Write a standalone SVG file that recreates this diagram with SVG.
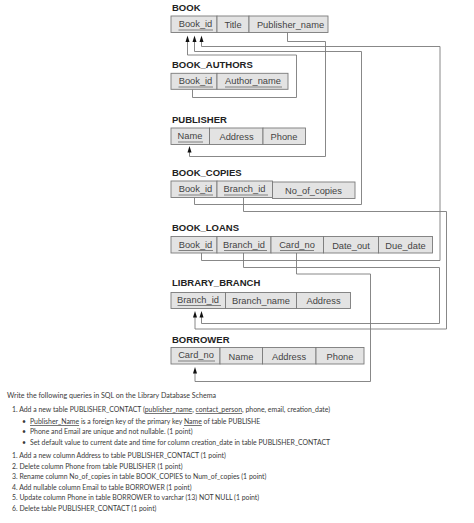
<svg xmlns="http://www.w3.org/2000/svg" width="474" height="523" viewBox="0 0 474 523">
<style>
.title{font-family:"Liberation Sans",Arial,sans-serif;font-weight:bold;font-size:9.5px;fill:#222}
.cell{fill:#e3e3e3;stroke:#7a7a7a;stroke-width:0.9}
.ct{font-family:"Liberation Sans",Arial,sans-serif;font-size:9.3px;fill:#444;text-anchor:middle}
.ul{stroke:#555;stroke-width:0.7}
.conn{fill:none;stroke:#7a7a7a;stroke-width:0.9}
.arr{fill:#111}
.q{font-family:Lato,"Open Sans",sans-serif;font-size:6.9px;fill:#3a3a3a}
.qh{font-family:Lato,"Open Sans",sans-serif;font-size:7.1px;fill:#3a3a3a}
</style>
<rect width="474" height="523" fill="#fff"/>
<defs>
<path id="ah" d="M-2,6 L0,-0.5 L2,6 Z"/>
</defs>

<g id="connectors">
<path class="conn" d="M192.5,89.5 V97.5 H296.5 V55 H187.5 V41"/>
<path class="conn" d="M194.5,198 V204.5 H361.5 V51.5 H194.5 V41"/>
<path class="conn" d="M201.5,253 V260.5 H440 V46.5 H201.5 V41"/>
<path class="conn" d="M287.5,32.5 V41.5 H325.5 V156.5 H189.5 V152"/>
<path class="conn" d="M243.5,198 V211.5 H446.5 V329 H195 V317"/>
<path class="conn" d="M243.5,253 V267.5 H439.5 V323.5 H201.5 V317"/>
<path class="conn" d="M296.5,253 V274 H370.5 V381.5 H195 V373"/>
<use href="#ah" class="arr" x="187.5" y="36"/>
<use href="#ah" class="arr" x="194.5" y="36"/>
<use href="#ah" class="arr" x="201.5" y="36"/>
<use href="#ah" class="arr" x="189.5" y="146.5"/>
<use href="#ah" class="arr" x="195" y="311.5"/>
<use href="#ah" class="arr" x="201.5" y="311.5"/>
<use href="#ah" class="arr" x="195" y="367.5"/>
</g>

<g id="BOOK">
<text class="title" x="172" y="11">BOOK</text>
<rect class="cell" x="171" y="16" width="46" height="16.5"/>
<rect class="cell" x="217" y="16" width="32" height="16.5"/>
<rect class="cell" x="249" y="16" width="79" height="16.5"/>
<text class="ct" x="195.5" y="27">Book_id</text>
<line class="ul" x1="178.5" y1="30" x2="213" y2="30"/>
<text class="ct" x="233" y="28">Title</text>
<text class="ct" x="290.5" y="28">Publisher_name</text>
</g>

<g id="BOOK_AUTHORS">
<text class="title" x="172" y="67.5">BOOK_AUTHORS</text>
<rect class="cell" x="171" y="73.3" width="46" height="16"/>
<rect class="cell" x="217" y="73.3" width="71" height="16"/>
<text class="ct" x="195.5" y="84">Book_id</text>
<line class="ul" x1="178.5" y1="87" x2="213" y2="87"/>
<text class="ct" x="253" y="84">Author_name</text>
<line class="ul" x1="225" y1="87" x2="282" y2="87"/>
</g>

<g id="PUBLISHER">
<text class="title" x="172" y="122.5">PUBLISHER</text>
<rect class="cell" x="171" y="128" width="38.5" height="16.5"/>
<rect class="cell" x="209.5" y="128" width="53.5" height="16.5"/>
<rect class="cell" x="263" y="128" width="42.5" height="16.5"/>
<text class="ct" x="190" y="139">Name</text>
<line class="ul" x1="178" y1="142" x2="203" y2="142"/>
<text class="ct" x="236.5" y="140">Address</text>
<text class="ct" x="284" y="140">Phone</text>
</g>

<g id="BOOK_COPIES">
<text class="title" x="172" y="175.5">BOOK_COPIES</text>
<rect class="cell" x="171" y="181" width="46" height="16.5"/>
<rect class="cell" x="217" y="181" width="55.5" height="16.5"/>
<rect class="cell" x="272.5" y="182" width="82.5" height="16.5"/>
<text class="ct" x="195.5" y="192">Book_id</text>
<line class="ul" x1="178.5" y1="195" x2="213" y2="195"/>
<text class="ct" x="244.5" y="192">Branch_id</text>
<line class="ul" x1="224" y1="195" x2="268" y2="195"/>
<text class="ct" x="313.5" y="194">No_of_copies</text>
</g>

<g id="BOOK_LOANS">
<text class="title" x="172" y="230.5">BOOK_LOANS</text>
<rect class="cell" x="171" y="236.5" width="46" height="16.5"/>
<rect class="cell" x="217" y="236.5" width="54" height="16.5"/>
<rect class="cell" x="271" y="236.5" width="52.5" height="16.5"/>
<rect class="cell" x="323.5" y="236.5" width="55" height="16.5"/>
<rect class="cell" x="378.5" y="236.5" width="54" height="16.5"/>
<text class="ct" x="195.5" y="247.5">Book_id</text>
<line class="ul" x1="178.5" y1="250.5" x2="213" y2="250.5"/>
<text class="ct" x="244" y="247.5">Branch_id</text>
<line class="ul" x1="224" y1="250.5" x2="267" y2="250.5"/>
<text class="ct" x="297" y="247.5">Card_no</text>
<line class="ul" x1="280" y1="250.5" x2="314" y2="250.5"/>
<text class="ct" x="351" y="249">Date_out</text>
<text class="ct" x="405.5" y="249">Due_date</text>
</g>

<g id="LIBRARY_BRANCH">
<text class="title" x="172" y="286">LIBRARY_BRANCH</text>
<rect class="cell" x="171" y="292.5" width="54.5" height="16"/>
<rect class="cell" x="225.5" y="292.5" width="71" height="16"/>
<rect class="cell" x="296.5" y="292.5" width="54" height="16"/>
<text class="ct" x="198" y="302.5">Branch_id</text>
<line class="ul" x1="177.5" y1="305.5" x2="221" y2="305.5"/>
<text class="ct" x="261" y="304">Branch_name</text>
<text class="ct" x="323.5" y="304">Address</text>
</g>

<g id="BORROWER">
<text class="title" x="172" y="342.5">BORROWER</text>
<rect class="cell" x="171" y="347.5" width="49" height="16.5"/>
<rect class="cell" x="220" y="347.5" width="42.5" height="16.5"/>
<rect class="cell" x="262.5" y="347.5" width="53.5" height="16.5"/>
<rect class="cell" x="316" y="347.5" width="48" height="16.5"/>
<text class="ct" x="196" y="358">Card_no</text>
<line class="ul" x1="178" y1="361" x2="215" y2="361"/>
<text class="ct" x="241" y="359.5">Name</text>
<text class="ct" x="289" y="359.5">Address</text>
<text class="ct" x="340" y="359.5">Phone</text>
</g>

<g id="questions">
<text class="qh" x="7" y="398">Write the following queries in SQL on the Library Database Schema</text>
<text class="q" x="12" y="412">1. Add a new table PUBLISHER_CONTACT (<tspan text-decoration="underline">publisher_name</tspan>, <tspan text-decoration="underline">contact_person</tspan>, phone, email, creation_date)</text>
<text class="q" x="22" y="424">•</text>
<text class="q" x="30" y="424"><tspan text-decoration="underline">Publisher_Name</tspan> is a foreign key of the primary key <tspan text-decoration="underline">Name</tspan> of table PUBLISHE</text>
<text class="q" x="22" y="434">•</text>
<text class="q" x="30" y="434">Phone and Email are unique and not nullable. (1 point)</text>
<text class="q" x="22" y="445">•</text>
<text class="q" x="30" y="445">Set default value to current date and time for column creation_date in table  PUBLISHER_CONTACT</text>
<text class="q" x="12" y="458">1. Add a new column Address to table PUBLISHER_CONTACT (1 point)</text>
<text class="q" x="12" y="468.5">2. Delete column Phone from table PUBLISHER (1 point)</text>
<text class="q" x="12" y="479">3. Rename column No_of_copies in table BOOK_COPIES to Num_of_copies (1 point)</text>
<text class="q" x="12" y="489.5">4. Add nullable column Email to table BORROWER (1 point)</text>
<text class="q" x="12" y="500">5. Update column Phone in table BORROWER to varchar (13) NOT NULL (1 point)</text>
<text class="q" x="12" y="510.5">6. Delete table PUBLISHER_CONTACT (1 point)</text>
</g>
</svg>
